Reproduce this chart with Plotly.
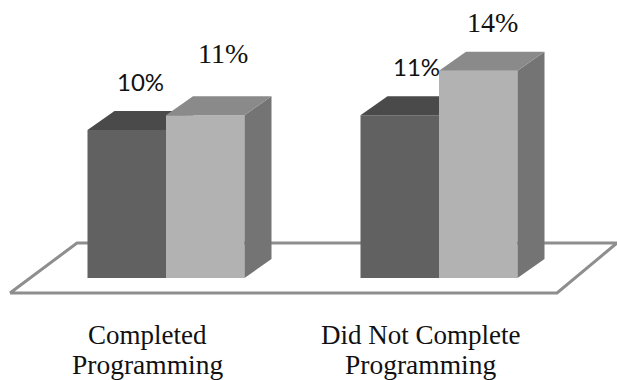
import plotly.graph_objects as go

# Chart values
categories = [["Completed", "Programming"], ["Did Not Complete", "Programming"]]
dark_values = [10, 11]
light_values = [11, 14]

# Colours for the faux-3D faces
DARK_FRONT, DARK_TOP, DARK_SIDE = "#616161", "#4a4a4a", "#6e6e6e"
LIGHT_FRONT, LIGHT_TOP, LIGHT_SIDE = "#b2b2b2", "#8a8a8a", "#747474"
FLOOR = "#8e8e8e"
SERIF = "Liberation Serif, serif"
SANS = "Lato, sans-serif"

W, H = 617, 380
GROUP_PX = 273.0          # distance between category groups
UNIT_PX = 14.8            # pixels per percentage point
X0_PX, Y0_PX = 166.0, 278.0  # first group centre and the bar baseline
BAR_W = 78.5 / GROUP_PX
DX, DY = 27 / GROUP_PX, 19 / UNIT_PX  # extrusion depth in axis units

x_range = [-X0_PX / GROUP_PX, (W - X0_PX) / GROUP_PX]
y_range = [-(H - Y0_PX) / UNIT_PX, Y0_PX / UNIT_PX]


def extruded_faces(left, value, top_colour, side_colour, xa, ya):
    right = left + BAR_W
    faces = [
        ([right, right + DX, right + DX, right, right],
         [0, DY, value + DY, value, 0], side_colour),
        ([left, left + DX, right + DX, right, left],
         [value, value + DY, value + DY, value, value], top_colour),
    ]
    return [
        go.Scatter(x=xs, y=ys, mode="lines", fill="toself", fillcolor=c,
                   line=dict(width=0), hoverinfo="skip", showlegend=False,
                   xaxis=xa, yaxis=ya)
        for xs, ys, c in faces
    ]


fig = go.Figure()
positions = list(range(len(categories)))

# Dark series sits on the base axes, light series on an overlay so it covers the dark tops
for xa, ya, values, offset, front, top, side in [
    ("x", "y", dark_values, -BAR_W / 2, DARK_FRONT, DARK_TOP, DARK_SIDE),
    ("x2", "y2", light_values, BAR_W / 2, LIGHT_FRONT, LIGHT_TOP, LIGHT_SIDE),
]:
    fig.add_trace(go.Bar(x=[p + offset for p in positions], y=values, width=BAR_W,
                         marker=dict(color=front, line=dict(width=0)),
                         showlegend=False, xaxis=xa, yaxis=ya))
    for p, v in zip(positions, values):
        left = p + offset - BAR_W / 2
        for face in extruded_faces(left, v, top, side, xa, ya):
            fig.add_trace(face)

# Floor plane behind the bars
floor_px = [(10, 293), (77, 243), (617, 243), (557, 293), (10, 293)]
path = "M " + " L ".join(f"{x / W:.4f},{1 - y / H:.4f}" for x, y in floor_px)
fig.add_shape(type="path", xref="paper", yref="paper", path=path, layer="below",
              fillcolor="white", line=dict(color=FLOOR, width=3))

# Value labels above each bar
label_specs = [
    (dark_values[0], positions[0] - BAR_W / 2, 14, 49, SANS, 24),
    (light_values[0], positions[0] + BAR_W / 2, 18, 62, SERIF, 28),
    (dark_values[1], positions[1] - BAR_W / 2, 17, 49, SANS, 24),
    (light_values[1], positions[1] + BAR_W / 2, 14, 48, SERIF, 28),
]
for v, x, xs, ys, family, size in label_specs:
    fig.add_annotation(x=x, y=v, text=f"{v}%", showarrow=False, xshift=xs, yshift=ys,
                       xanchor="center", yanchor="middle",
                       font=dict(family=family, size=size, color="#111111"))

# Two-line category captions under the floor
CAPTION_SHIFT = -19
for p, lines in zip(positions, categories):
    for line, row_y, size in zip(lines, [335, 364], [27, 27.5]):
        fig.add_annotation(x=p, y=(Y0_PX - row_y) / UNIT_PX, text=line, showarrow=False,
                           xshift=CAPTION_SHIFT, xanchor="center", yanchor="middle",
                           font=dict(family=SERIF, size=size, color="#111111"))

axis = dict(visible=False, fixedrange=True)
fig.update_layout(
    width=W, height=H, margin=dict(l=0, r=0, t=0, b=0),
    paper_bgcolor="white", plot_bgcolor="rgba(0,0,0,0)", showlegend=False,
    xaxis=dict(range=x_range, **axis),
    yaxis=dict(range=y_range, **axis),
    xaxis2=dict(range=x_range, overlaying="x", **axis),
    yaxis2=dict(range=y_range, overlaying="y", **axis),
)

fig.write_html("out.html", config=dict(displayModeBar=False))
